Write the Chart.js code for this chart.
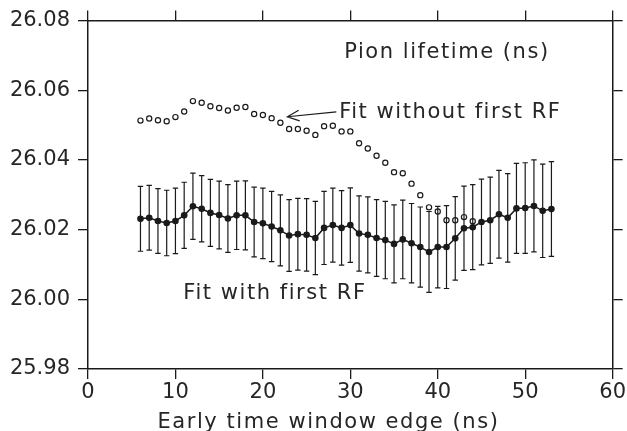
<!DOCTYPE html>
<html><head><meta charset="utf-8">
<style>html,body{margin:0;padding:0;background:#fff;}#wrap{width:627px;height:431px;}</style>
<script src="https://cdn.jsdelivr.net/npm/chart.js@4.4.0/dist/chart.umd.min.js"></script>
</head><body><div id="wrap"><canvas id="c" width="627" height="431"></canvas></div>
<script>
// Early time window edge (ns)
const edges = [6,7,8,9,10,11,12,13,14,15,16,17,18,19,20,21,22,23,24,25,26,27,28,29,30,31,32,33,34,35,36,37,38,39,40,41,42,43,44,45,46,47,48,49,50,51,52,53];
// Fit with first RF: pion lifetime (ns) and its error
const withRF = [26.0231,26.0234,26.0225,26.0219,26.0225,26.0241,26.0267,26.0260,26.0248,26.0242,26.0232,26.0241,26.0241,26.0222,26.0218,26.0209,26.0198,26.0183,26.0187,26.0185,26.0176,26.0205,26.0213,26.0205,26.0213,26.0189,26.0185,26.0176,26.0170,26.0159,26.0172,26.0161,26.0150,26.0136,26.0150,26.0150,26.0175,26.0204,26.0207,26.0222,26.0227,26.0244,26.0234,26.0261,26.0262,26.0268,26.0254,26.0259];
const withRFErr = [0.0093,0.0093,0.0093,0.0094,0.0094,0.0095,0.0095,0.0095,0.0096,0.0097,0.0097,0.0098,0.0099,0.0100,0.0101,0.0101,0.0102,0.0103,0.0103,0.0104,0.0105,0.0105,0.0106,0.0107,0.0107,0.0108,0.0109,0.0110,0.0111,0.0112,0.0113,0.0114,0.0115,0.0116,0.0117,0.0119,0.0120,0.0121,0.0122,0.0123,0.0124,0.0126,0.0127,0.0129,0.0130,0.0132,0.0134,0.0136];
// Fit without first RF
const edgesNoRF = [6,7,8,9,10,11,12,13,14,15,16,17,18,19,20,21,22,23,24,25,26,27,28,29,30,31,32,33,34,35,36,37,38,39,40,41,42,43,44];
const withoutRF = [26.0513,26.0519,26.0514,26.0511,26.0523,26.0539,26.0569,26.0564,26.0554,26.0549,26.0542,26.0550,26.0552,26.0532,26.0529,26.0520,26.0507,26.0489,26.0489,26.0484,26.0472,26.0497,26.0498,26.0482,26.0482,26.0448,26.0433,26.0412,26.0392,26.0365,26.0362,26.0332,26.0299,26.0264,26.0252,26.0227,26.0227,26.0236,26.0224];
// axes
const xTicks = [0,10,20,30,40,50,60];
const yTicks = [25.98,26.00,26.02,26.04,26.06,26.08];
const xTitle = 'Early time window edge (ns)';
// annotations (text, anchor in data units)
const noteTexts = ['Pion lifetime (ns)','Fit without first RF','Fit with first RF'];
const noteX = [29.3, 28.72, 10.9];
const noteY = [26.0692, 26.0521, 26.0000];
const arrowX = [28.4, 22.8];
const arrowY = [26.0538, 26.0524];

const INK = '#1a1a1a';
const TXT = '#262626';
const FONT = "'DejaVu Sans', sans-serif";

const annot = {
  id: 'annot',
  beforeDatasetsDraw(chart) {
    const {ctx} = chart, x = chart.scales.x, y = chart.scales.y;
    ctx.save();
    ctx.strokeStyle = INK; ctx.lineWidth = 1.2;
    edges.forEach((e, i) => {
      const px = x.getPixelForValue(e);
      const t = y.getPixelForValue(withRF[i] + withRFErr[i]);
      const b = y.getPixelForValue(withRF[i] - withRFErr[i]);
      ctx.beginPath();
      ctx.moveTo(px, t); ctx.lineTo(px, b);
      ctx.moveTo(px - 2.7, t); ctx.lineTo(px + 2.7, t);
      ctx.moveTo(px - 2.7, b); ctx.lineTo(px + 2.7, b);
      ctx.stroke();
    });
    ctx.restore();
  },
  afterDraw(chart) {
    const {ctx, chartArea} = chart, x = chart.scales.x, y = chart.scales.y;
    ctx.save();
    ctx.fillStyle = TXT;
    ctx.font = '21px ' + FONT;
    ctx.textBaseline = 'alphabetic';
    ctx.textAlign = 'left';
    try { ctx.letterSpacing = '1.55px'; } catch (e) {}
    noteTexts.forEach((t, i) => ctx.fillText(t, x.getPixelForValue(noteX[i]), y.getPixelForValue(noteY[i])));
    ctx.textAlign = 'center';
    ctx.fillText(xTitle, x.getPixelForValue(27.5), chartArea.bottom + 59);
    // arrow
    const x0 = x.getPixelForValue(arrowX[0]), y0 = y.getPixelForValue(arrowY[0]);
    const x1 = x.getPixelForValue(arrowX[1]), y1 = y.getPixelForValue(arrowY[1]);
    const ang = Math.atan2(y0 - y1, x0 - x1);
    ctx.strokeStyle = INK; ctx.lineWidth = 1.2;
    ctx.beginPath();
    ctx.moveTo(x0, y0); ctx.lineTo(x1, y1);
    ctx.moveTo(x1 + 13 * Math.cos(ang - 0.42), y1 + 13 * Math.sin(ang - 0.42));
    ctx.lineTo(x1, y1);
    ctx.lineTo(x1 + 13 * Math.cos(ang + 0.42), y1 + 13 * Math.sin(ang + 0.42));
    ctx.stroke();
    ctx.restore();
  }
};

const gridOpts = {drawOnChartArea: false, drawTicks: true, tickLength: 10, color: INK, lineWidth: 1.3};
const borderOpts = {display: true, color: INK, width: 1.5};

new Chart(document.getElementById('c'), {
  type: 'line',
  data: {
    datasets: [
      {
        label: 'Fit with first RF',
        data: edges.map((e, i) => ({x: e, y: withRF[i]})),
        borderColor: INK, borderWidth: 1.5,
        pointRadius: 3.3, pointBackgroundColor: INK, pointBorderColor: INK, pointBorderWidth: 0,
        tension: 0, order: 1
      },
      {
        label: 'Fit without first RF',
        data: edgesNoRF.map((e, i) => ({x: e, y: withoutRF[i]})),
        showLine: false,
        pointRadius: 2.6, pointBackgroundColor: 'rgba(0,0,0,0)', pointBorderColor: INK, pointBorderWidth: 1.2,
        order: 0
      }
    ]
  },
  options: {
    responsive: false, animation: false, devicePixelRatio: 1,
    layout: {padding: 0},
    plugins: {legend: {display: false}, tooltip: {enabled: false}, title: {display: false}},
    scales: {
      x: {
        type: 'linear', position: 'bottom', min: 0, max: 60,
        afterBuildTicks: s => { s.ticks = xTicks.map(v => ({value: v})); },
        afterFit: s => { s.height = 62; },
        ticks: {font: {family: FONT, size: 21}, color: TXT, padding: 1, maxRotation: 0},
        grid: gridOpts, border: borderOpts
      },
      x2: {
        type: 'linear', position: 'top', min: 0, max: 60,
        afterBuildTicks: s => { s.ticks = xTicks.map(v => ({value: v})); },
        afterFit: s => { s.height = 18; },
        ticks: {display: false},
        grid: gridOpts, border: borderOpts
      },
      y: {
        type: 'linear', position: 'left', min: 25.98, max: 26.08,
        afterBuildTicks: s => { s.ticks = yTicks.map(v => ({value: v})); },
        afterFit: s => { s.width = 88; },
        ticks: {font: {family: FONT, size: 21}, color: TXT, padding: 8, callback: v => Number(v).toFixed(2)},
        grid: gridOpts, border: borderOpts
      },
      y2: {
        type: 'linear', position: 'right', min: 25.98, max: 26.08,
        afterBuildTicks: s => { s.ticks = yTicks.map(v => ({value: v})); },
        afterFit: s => { s.width = 10.5; },
        ticks: {display: false},
        grid: gridOpts, border: borderOpts
      }
    }
  },
  plugins: [annot]
});
</script>
</body></html>
